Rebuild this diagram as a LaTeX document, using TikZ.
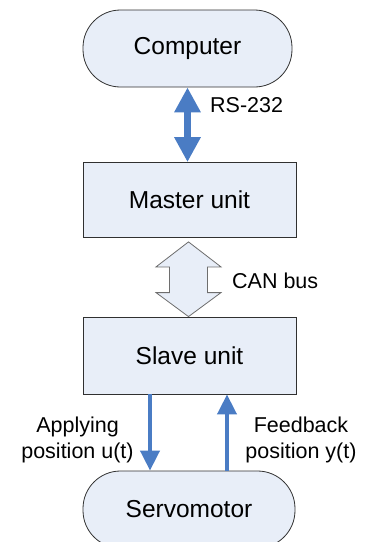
\documentclass[tikz,border=0pt]{standalone}
\usepackage{fontspec}
\setmainfont{Liberation Sans}
\usetikzlibrary{arrows.meta,calc}
\definecolor{boxfill}{HTML}{E8EEF8}
\definecolor{linkblue}{HTML}{4A7CC4}
\definecolor{edgegray}{HTML}{303030}

\begin{document}
\begin{tikzpicture}[x=1pt,y=-1pt,
    unitbox/.style={draw=edgegray,line width=0.8pt,fill=boxfill,minimum width=213pt,
      minimum height=75pt,inner sep=0pt,font=\fontsize{24.5pt}{29pt}\selectfont},
    endbox/.style={unitbox,rounded corners=37.5pt},
    linklabel/.style={inner sep=0pt,align=center,font=\fontsize{21.5pt}{26pt}\selectfont},
    serial/.style={draw=linkblue,line width=7pt,{Triangle[width=25pt,length=25pt]}-{Triangle[width=25pt,length=25pt]}},
    signal/.style={draw=linkblue,line width=4pt,-{Triangle[width=19pt,length=20pt]}},
    canarrow/.style={draw=edgegray!70,line width=0.8pt,fill=boxfill}]
  \useasboundingbox (0,0) rectangle (368,542);
  \node[endbox,minimum width=209pt,minimum height=77pt] (comp) at (187.5,48.5) {Computer};
  \node[unitbox] (master) at (189.5,200) {Master unit};
  \node[unitbox,minimum height=77pt] (slave) at (189.5,355.5) {Slave unit};
  \node[endbox,minimum width=212pt,minimum height=77pt] (servo) at (189,509.5) {Servomotor};
  \coordinate (cantop) at ($(master.south)+(-1,4)$);
  \coordinate (canbot) at ($(slave.north)+(-1,0)$);
  \coordinate (down) at ($(slave.south)+(-39.5,0)$);
  \coordinate (up) at ($(slave.south)+(37.5,0)$);
  \draw[serial] (comp.south) -- (comp.south |- master.north);
  \draw[canarrow] (cantop) -- ++(32.5,25) -- ++(-13.5,0) -- ($(canbot)+(19,-24)$)
    -- ($(canbot)+(32.5,-24)$) -- (canbot) -- ($(canbot)+(-32.5,-24)$)
    -- ($(canbot)+(-19,-24)$) -- ($(cantop)+(-19,25)$) -- ($(cantop)+(-32.5,25)$) -- cycle;
  \draw[signal] (down) -- (down |- servo.north);
  \draw[signal] (up |- servo.north) -- (up);
  \node[linklabel,anchor=west] (rslabel) at (210,105) {RS-232};
  \node[linklabel,anchor=west] (canlabel) at (232,281) {CAN bus};
  \node[linklabel] (applylabel) at (77.5,440) {Applying\\position u(t)};
  \node[linklabel] (feedlabel) at (301,440) {Feedback\\position y(t)};
\end{tikzpicture}
\end{document}
